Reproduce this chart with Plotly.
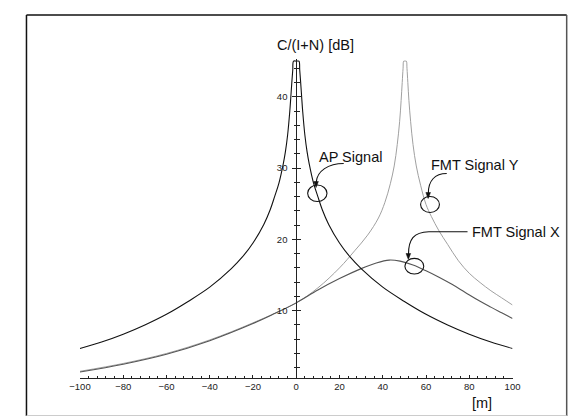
import plotly.graph_objects as go

W, H = 580, 417

# ---- data ----
ap_x = [-100, -90, -80, -70, -60, -50, -40, -30, -25, -20, -15, -12, -10, -8, -6, -5, -4, -3, -2.5, -2, -1.6, -1.25, 0,
        1.25, 1.6, 2, 2.5, 3, 4, 5, 6, 8, 10, 12, 15, 20, 25, 30, 40, 50, 60, 70, 80, 90, 100]
ap_y = [4.7, 5.6, 6.7, 8.0, 9.5, 11.3, 13.3, 15.9, 17.5, 19.5, 22.1, 24.2, 26.0, 27.9, 30.6, 32.3, 34.6, 37.9, 40, 42.2, 43.8, 45, 45,
        45, 43.8, 42.2, 40, 37.9, 34.6, 32.3, 30.6, 27.9, 26.0, 24.2, 22.1, 19.5, 17.5, 15.9, 13.3, 11.3, 9.5, 8.0, 6.7, 5.6, 4.7]

fmt_y_x = [-100, -80, -60, -40, -20, 0, 10, 20, 27, 33, 38, 41, 43.5, 45.3, 46.7, 47.8, 48.5, 49.0, 49.4, 49.7, 50.3,
           50.9, 51.2, 51.6, 52.1, 52.9, 54.0, 55.5, 57.5, 60, 62.5, 66, 70, 75, 80, 85, 90, 95, 100]
fmt_y_y = [1.5, 2.6, 4.0, 5.9, 8.3, 11.1, 13.2, 16.0, 18.4, 20.6, 23.0, 25.2, 27.8, 30.3, 33.3, 36.5, 39.5, 42.0, 44.0, 45, 45,
           45, 44.0, 42.0, 39.5, 36.5, 33.3, 30.3, 27.6, 24.9, 23.2, 21.2, 19.3, 17.0, 15.25, 13.95, 12.8, 11.8, 10.8]

fmt_x_x = [-100, -80, -60, -40, -20, -10, 0, 10, 20, 30, 37, 43, 48, 54, 60, 66, 72, 78, 84, 90, 95, 100]
fmt_x_y = [1.4, 2.5, 3.9, 5.8, 8.2, 9.6, 11.1, 12.9, 14.5, 15.9, 16.7, 17.1, 16.95, 16.4, 15.6, 14.7, 13.7, 12.6, 11.5, 10.5, 9.7, 8.9]

x_ticks = [-100, -80, -60, -40, -20, 0, 20, 40, 60, 80, 100]
y_ticks = [10, 20, 30, 40]

FONT = "Liberation Sans, Arial, sans-serif"


def px(x):
    return x / W


def py(y):
    return 1 - y / H


fig = go.Figure()
fig.add_trace(go.Scatter(x=fmt_y_x, y=fmt_y_y, mode="lines", name="FMT Signal Y",
                         line=dict(color="#a0a0a0", width=1, shape="spline", smoothing=1)))
fig.add_trace(go.Scatter(x=fmt_x_x, y=fmt_x_y, mode="lines", name="FMT Signal X",
                         line=dict(color="#555555", width=1.1, shape="spline", smoothing=1)))
fig.add_trace(go.Scatter(x=ap_x, y=ap_y, mode="lines", name="AP Signal",
                         line=dict(color="#111111", width=1.1, shape="spline", smoothing=1)))
# invisible trace to activate overlay axis
fig.add_trace(go.Scatter(x=[0], y=[10], yaxis="y2", mode="markers", marker=dict(opacity=0),
                         showlegend=False, hoverinfo="skip"))

x_left, x_right = 71.3, 518.5
y_bot_val, y_top_val = 0.6, 45.3
y_zero_px = 382.0
scale = 7.13
bot_px = y_zero_px - scale * y_bot_val
top_px = y_zero_px - scale * y_top_val
x0_frac = px(295.0)

fig.update_layout(
    width=W, height=H, autosize=False,
    margin=dict(l=0, r=0, t=0, b=0),
    paper_bgcolor="white", plot_bgcolor="white",
    showlegend=False,
    font=dict(family=FONT, color="#222222"),
    xaxis=dict(domain=[px(x_left), px(x_right)], range=[-100, 100], showgrid=False, zeroline=False,
               showline=True, linecolor="#222222", linewidth=1,
               tickmode="array", tickvals=x_ticks, ticks="inside", ticklen=3, tickcolor="#222222",
               tickfont=dict(size=9.5, family=FONT, color="#222222"),
               minor=dict(tickmode="linear", tick0=0, dtick=4, ticks="inside", ticklen=2, tickcolor="#222222"),
               anchor="y"),
    yaxis=dict(domain=[py(bot_px), py(top_px)], range=[y_bot_val, y_top_val], showgrid=False, zeroline=False,
               anchor="free", position=x0_frac,
               showline=True, linecolor="#222222", linewidth=1,
               tickmode="array", tickvals=y_ticks, ticks="outside", ticklen=4, tickcolor="#222222",
               ticklabelstandoff=3,
               tickfont=dict(size=9.5, family=FONT, color="#222222"),
               minor=dict(tickmode="linear", tick0=0, dtick=2, ticks="outside", ticklen=2.5, tickcolor="#222222")),
    yaxis2=dict(domain=[py(bot_px), py(top_px)], range=[y_bot_val, y_top_val], overlaying="y",
                anchor="free", position=x0_frac, showgrid=False, zeroline=False, showline=False,
                showticklabels=False, tickmode="array", tickvals=y_ticks, ticks="inside", ticklen=4,
                tickcolor="#222222",
                minor=dict(tickmode="linear", tick0=0, dtick=2, ticks="inside", ticklen=2.5, tickcolor="#222222")),
)

# ---- text labels ----
def label(text, cx, cy, size=14.5):
    fig.add_annotation(text=text, x=px(cx), y=py(cy), xref="paper", yref="paper", showarrow=False,
                       xanchor="center", yanchor="middle", font=dict(size=size, family=FONT, color="#111111"))


label("C/(I+N) [dB]", 315, 45)
label("[m]", 486.5, 403)
label("AP Signal", 350.5, 156.5)
label("FMT Signal Y", 479.2, 165)
label("FMT Signal X", 522.2, 231.7)

# ---- frame ----
def seg(x0, y0, x1, y1, color, width):
    fig.add_shape(type="line", xref="paper", yref="paper", x0=px(x0), y0=py(y0), x1=px(x1), y1=py(y1),
                  line=dict(color=color, width=width))


seg(16, 15, 574.5, 15, "#111111", 1.5)
seg(16, 15, 16, 416, "#111111", 1.5)
seg(574.5, 15, 574.5, 416, "#555555", 1.5)
seg(16, 415.5, 574.5, 415.5, "#cccccc", 1)

# ---- ellipses ----
def ellipse(cx, cy, w, h):
    fig.add_shape(type="circle", xref="paper", yref="paper", x0=px(cx - w / 2), x1=px(cx + w / 2),
                  y0=py(cy + h / 2), y1=py(cy - h / 2), line=dict(color="#111111", width=1.1))


ellipse(316.7, 193.3, 20, 16.5)
ellipse(433.2, 204.5, 19.5, 16)
ellipse(417.0, 266.2, 19.5, 15.7)

# ---- curved arrows ----
def P(x, y):
    return f"{px(x):.5f},{py(y):.5f}"


def curve(points_str):
    fig.add_shape(type="path", xref="paper", yref="paper", path=points_str,
                  line=dict(color="#111111", width=1.1))


def head(tipx, tipy):
    path = f"M {P(tipx, tipy)} L {P(tipx - 2.4, tipy - 6)} L {P(tipx + 2.4, tipy - 6)} Z"
    fig.add_shape(type="path", xref="paper", yref="paper", path=path,
                  line=dict(color="#111111", width=0.5), fillcolor="#111111")


curve(f"M {P(344, 163.5)} C {P(328, 163.5)} {P(316.5, 171)} {P(315.6, 182)}")
head(315.4, 187.5)
curve(f"M {P(450.5, 173.5)} C {P(438, 173.5)} {P(431.5, 181)} {P(431.5, 193)}")
head(431.3, 198.5)
curve(f"M {P(472, 231.7)} L {P(432, 231.7)} C {P(416, 232)} {P(411, 240)} {P(411, 254)}")
head(410.8, 259.5)

fig.write_html("out.html")
